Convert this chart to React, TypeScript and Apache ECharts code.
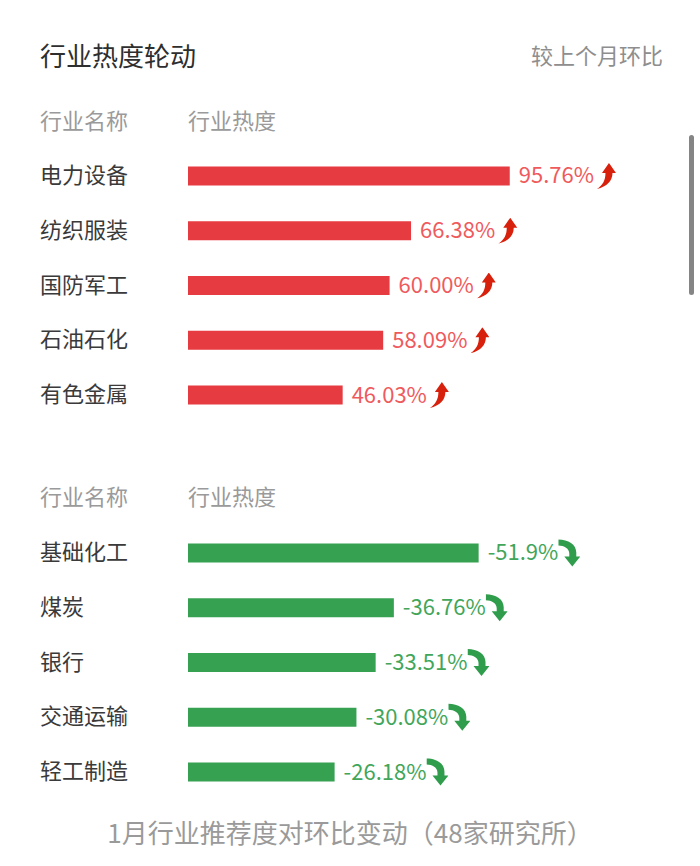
import React, { useEffect, useRef } from "react";
import * as echarts from "echarts";

const redCategories = ["电力设备", "纺织服装", "国防军工", "石油石化", "有色金属"];
const redValues = [95.76, 66.38, 60.0, 58.09, 46.03];
const greenCategories = ["基础化工", "煤炭", "银行", "交通运输", "轻工制造"];
const greenValues = [51.9, 36.76, 33.51, 30.08, 26.18]; // shown as negative changes
const titleText = "行业热度轮动";
const subTitleText = "较上个月环比";
const headerName = "行业名称";
const headerHeat = "行业热度";
const captionText = "1月行业推荐度对环比变动（48家研究所）";

const FONT = "'Noto Sans CJK SC', 'Noto Sans', sans-serif";

const upSvg =
  '<svg xmlns="http://www.w3.org/2000/svg" width="22" height="26" viewBox="0 0 22 26"><path d="M15 0 L22 10 L18.5 10 C18.5 18 13 23.5 3 26 C9 22 11.5 17 11.5 10 L8 10 Z" fill="#d8210c"/></svg>';
const downSvg =
  '<svg xmlns="http://www.w3.org/2000/svg" width="22" height="27" viewBox="0 0 22 27"><path d="M0 0 C10 0 18 5 18 13 L18 17 L22 17 L14 27 L6 17 L11 17 L11 14 C11 9 6 6 0 6 Z" fill="#2f9d4b"/></svg>';
const upUrl = "data:image/svg+xml;charset=utf-8," + encodeURIComponent(upSvg);
const downUrl = "data:image/svg+xml;charset=utf-8," + encodeURIComponent(downSvg);

export default function App() {
  const ref = useRef<HTMLDivElement>(null);
  useEffect(() => {
    if (!ref.current) return;
    const chart = echarts.init(ref.current, null, { renderer: "svg" });
    const catLabel = {
      align: "left" as const,
      margin: 148,
      formatter: (v: string) => `{n|${v}}`,
      rich: {
        n: {
          fontSize: 22,
          color: "#3a3a3a",
          fontFamily: FONT,
          padding: [0, 0, 6, 0],
        },
      },
    };
    chart.setOption({
      animation: false,
      backgroundColor: "#ffffff",
      grid: [
        { left: 188, width: 336, top: 148.6, height: 273.8 },
        { left: 188, width: 336, top: 525.6, height: 273.8 },
      ],
      xAxis: [
        { type: "value", gridIndex: 0, min: 0, max: 100, show: false },
        { type: "value", gridIndex: 1, min: 0, max: 60, show: false },
      ],
      yAxis: [
        {
          type: "category",
          gridIndex: 0,
          inverse: true,
          data: redCategories,
          axisLine: { show: false },
          axisTick: { show: false },
          axisLabel: catLabel,
        },
        {
          type: "category",
          gridIndex: 1,
          inverse: true,
          data: greenCategories,
          axisLine: { show: false },
          axisTick: { show: false },
          axisLabel: catLabel,
        },
      ],
      series: [
        {
          type: "bar",
          xAxisIndex: 0,
          yAxisIndex: 0,
          data: redValues,
          barWidth: 19,
          itemStyle: { color: "#e63b40" },
          label: {
            show: true,
            position: "right",
            distance: 9,
            formatter: (p: any) => `{v|${Number(p.value).toFixed(2)}%}{a|}`,
            rich: {
              v: { fontSize: 22, color: "#ef5a5d", fontFamily: FONT, padding: [0, 0, 5, 0] },
              a: {
                width: 22,
                height: 26,
                backgroundColor: { image: upUrl },
              },
            },
          },
        },
        {
          type: "bar",
          xAxisIndex: 1,
          yAxisIndex: 1,
          data: greenValues,
          barWidth: 19,
          itemStyle: { color: "#37a152" },
          label: {
            show: true,
            position: "right",
            distance: 9,
            formatter: (p: any) => `{v|-${p.value}%}{a|}`,
            rich: {
              v: { fontSize: 22, color: "#42a65a", fontFamily: FONT, padding: [0, 0, 5, 0] },
              a: {
                width: 22,
                height: 27,
                padding: [6, 0, 0, 0],
                backgroundColor: { image: downUrl },
              },
            },
          },
        },
      ],
      graphic: [
        {
          type: "text",
          left: 40,
          top: 41,
          style: { text: titleText, fontSize: 26, fill: "#2e2e2e", fontFamily: FONT },
        },
        {
          type: "text",
          right: 37,
          top: 43,
          style: { text: subTitleText, fontSize: 22, fill: "#8e8e8e", fontFamily: FONT },
        },
        {
          type: "text",
          left: 40,
          top: 108,
          style: { text: headerName, fontSize: 22, fill: "#9a9a9a", fontFamily: FONT },
        },
        {
          type: "text",
          left: 188,
          top: 108,
          style: { text: headerHeat, fontSize: 22, fill: "#9a9a9a", fontFamily: FONT },
        },
        {
          type: "text",
          left: 40,
          top: 484,
          style: { text: headerName, fontSize: 22, fill: "#9a9a9a", fontFamily: FONT },
        },
        {
          type: "text",
          left: 188,
          top: 484,
          style: { text: headerHeat, fontSize: 22, fill: "#9a9a9a", fontFamily: FONT },
        },
        {
          type: "text",
          left: "center",
          top: 818,
          style: { text: captionText, fontSize: 26, fill: "#9a9a9a", fontFamily: FONT },
        },
        {
          type: "rect",
          left: 689,
          top: 135,
          shape: { width: 5, height: 160, r: 2.5 },
          style: { fill: "#858585" },
        },
      ],
    });
    return () => chart.dispose();
  }, []);
  return (
    <div
      ref={ref}
      style={{ position: "fixed", left: 0, top: 0, width: 700, height: 866 }}
    />
  );
}
